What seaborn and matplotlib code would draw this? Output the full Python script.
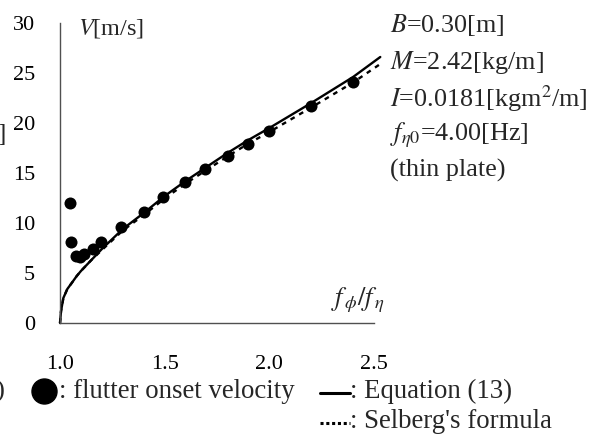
import matplotlib
matplotlib.use("Agg")
import matplotlib.pyplot as plt
import seaborn as sns
import pandas as pd
from matplotlib.lines import Line2D

# ---- data ----
flutter_ratio = [1.048, 1.053, 1.075, 1.096, 1.116, 1.156, 1.196, 1.292, 1.399,
                 1.494, 1.598, 1.694, 1.802, 1.898, 2.0, 2.201, 2.40]
flutter_V = [12.0, 8.07, 6.7, 6.6, 6.87, 7.37, 8.07, 9.63, 11.07,
             12.63, 14.07, 15.37, 16.7, 17.9, 19.2, 21.7, 24.1]

eq_ratio = [1.0, 1.005, 1.016, 1.035, 1.056, 1.08, 1.1, 1.15, 1.2, 1.3, 1.4,
            1.5, 1.6, 1.7, 1.8, 1.9, 2.0, 2.2, 2.4, 2.53]
eq_V = [0.0, 1.2, 2.5, 3.4, 4.0, 4.7, 5.2, 6.3, 7.4, 9.4, 11.0,
        12.7, 14.2, 15.6, 17.0, 18.3, 19.5, 22.0, 24.6, 26.6]

selberg_ratio = [1.0, 1.005, 1.016, 1.035, 1.056, 1.08, 1.1, 1.15, 1.2, 1.3, 1.4,
                 1.5, 1.6, 1.7, 1.8, 1.9, 2.0, 2.2, 2.4, 2.53]
selberg_V = [0.0, 1.2, 2.5, 3.4, 4.0, 4.7, 5.2, 6.3, 7.3, 9.25, 10.8,
             12.45, 13.95, 15.3, 16.65, 17.95, 19.1, 21.55, 24.05, 25.9]

x_ticks = [1.0, 1.5, 2.0, 2.5]
x_ticklabels = ["1.0", "1.5", "2.0", "2.5"]
y_ticks = [0, 5, 10, 15, 20, 25, 30]
y_ticklabels = ["0", "5", "10", "15", "20", "25", "30"]

param_lines = [r"$B$=0.30[m]", r"$M$=2.42[kg/m]", r"$I$=0.0181[kgm$^2$/m]",
               r"$f_{\eta0}$=4.00[Hz]", "(thin plate)"]

# ---- style ----
sns.set_theme(style="white")
plt.rcParams["font.family"] = ["Liberation Serif", "DejaVu Serif"]
plt.rcParams["mathtext.fontset"] = "stix"

W, H = 599, 438
fig = plt.figure(figsize=(W / 100, H / 100), dpi=100)

def px(x):
    return x / W

def py(y):
    return 1 - y / H

ax = fig.add_axes([px(60), py(323), px(374) - px(60), py(23) - py(323)])
ax.set_facecolor("none")

df_eq = pd.DataFrame({"r": eq_ratio, "V": eq_V})
df_sel = pd.DataFrame({"r": selberg_ratio, "V": selberg_V})
df_fl = pd.DataFrame({"r": flutter_ratio, "V": flutter_V})

sns.lineplot(data=df_eq, x="r", y="V", ax=ax, color="black", lw=1.7,
             sort=False, estimator=None, clip_on=False)
sns.lineplot(data=df_sel, x="r", y="V", ax=ax, color="black", lw=1.7,
             linestyle=(0, (2, 2.2)), sort=False, estimator=None, clip_on=False)
sns.scatterplot(data=df_fl, x="r", y="V", ax=ax, color="black", s=75,
                edgecolor="black", linewidth=0, zorder=5, clip_on=False)

ax.set_xlim(1.0, 2.5)
ax.set_ylim(0, 30)
ax.set_xticks(x_ticks)
ax.set_xticklabels(x_ticklabels)
ax.set_yticks(y_ticks)
ax.set_yticklabels(y_ticklabels)
ax.set_xlabel("")
ax.set_ylabel("")

for s in ["top", "right"]:
    ax.spines[s].set_visible(False)
for s in ["left", "bottom"]:
    ax.spines[s].set_color("#505050")
    ax.spines[s].set_linewidth(1.0)

ax.tick_params(axis="both", direction="in", length=5, width=1.0,
               color="#505050", labelsize=16, labelcolor="black")
ax.tick_params(axis="y", pad=18)
ax.tick_params(axis="x", pad=23)

# axis labels inside the plot
ax.text(px(78), py(28), r"$V$[m/s]", transform=fig.transFigure,
        fontsize=17.5, ha="left", va="center")
ax.text(px(331), py(300), r"$f_{\,\phi}/f_{\,\eta}$", transform=fig.transFigure,
        fontsize=19, ha="left", va="center")

# parameters block
ys = [25, 62, 99, 135, 170]
for t, yy in zip(param_lines, ys):
    fig.text(px(390), py(yy), t, fontsize=18.8, ha="left", va="center")

# bottom legend
fig.add_artist(Line2D([px(44)], [py(391)], marker="o", markersize=18,
                      color="black", linestyle="none", transform=fig.transFigure))
fig.text(px(59), py(391), ": flutter onset velocity", fontsize=19.3,
         ha="left", va="center")
fig.add_artist(Line2D([px(320), px(350)], [py(393), py(393)], color="black",
                      lw=2.2, transform=fig.transFigure))
fig.text(px(350), py(391), ": Equation (13)", fontsize=19.3, ha="left", va="center")
fig.add_artist(Line2D([px(320), px(350)], [py(423), py(423)], color="black",
                      lw=2.2, linestyle=(0, (1.0, 0.9)), transform=fig.transFigure))
fig.text(px(350), py(421), ": Selberg's formula", fontsize=19.3, ha="left", va="center")

# clipped fragments of neighbouring text at the left edge (cut off in the reference too)
fig.text(px(6), py(135), "]", fontsize=18, ha="right", va="center")
fig.text(px(5), py(391), "0)", fontsize=19, ha="right", va="center")

fig.savefig("out.png", dpi=100)
